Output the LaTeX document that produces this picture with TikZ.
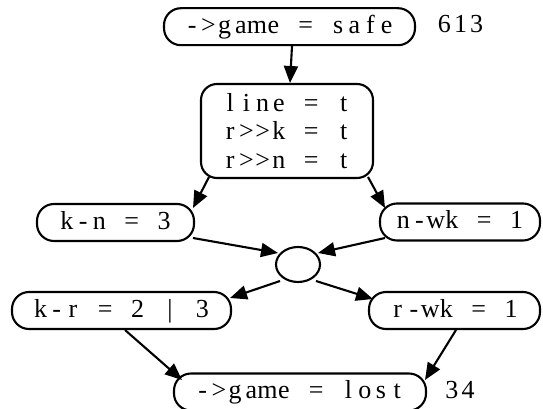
\documentclass[tikz,border=0pt]{standalone}
\usepackage{fontspec}
\setmainfont{Liberation Serif}
\usetikzlibrary{arrows.meta,shapes.geometric}
\newlength\cellw
\setlength\cellw{16.2pt}
\def\mono#1{\monoA#1\relax}
\def\monoA#1{\ifx\relax#1\else\makebox[\cellw][c]{#1}\expandafter\monoA\fi}
\tikzset{
  every node/.style={font=\fontsize{26}{28.5}\selectfont, inner sep=0pt},
  rbox/.style={draw, line width=2.1pt, rounded corners=17pt, minimum height=37pt, text height=17pt, text depth=4pt},
  mbox/.style={draw, line width=2.1pt, rounded corners=16pt, minimum width=172pt, minimum height=94pt, align=center},
  junc/.style={draw, line width=2.1pt, ellipse, minimum width=44pt, minimum height=35pt},
  lbl/.style={text height=17pt, text depth=4pt},
  arr/.style={line width=2.1pt, -{Triangle[length=17pt,width=14pt]}}
}
\begin{document}
\begin{tikzpicture}[x=1pt,y=-1pt]
\useasboundingbox (0,0) rectangle (543,409);
\node[rbox, minimum width=251pt] (safe) at (289.5,26.7) {\mono{->game~=~safe}};
\node[lbl] (n613) at (460.5,26.5) {\mono{613}};
\node[mbox] (mid) at (287,131) {\mono{line~=~t}\\\mono{r>>k~=~t}\\\mono{r>>n~=~t}};
\node[rbox, minimum width=157pt] (kn) at (115.5,222.5) {\mono{k-n~=~3}};
\node[rbox, minimum width=160pt] (nwk) at (460,222) {\mono{n-wk~=~1}};
\node[junc] (j) at (298,264.5) {};
\node[rbox, minimum width=219pt] (kr) at (121.5,310.5) {\mono{k-r~=~2~|~3}};
\node[rbox, minimum width=171pt] (rwk) at (454.5,310.5) {\mono{r-wk~=~1}};
\node[rbox, minimum width=252pt] (lost) at (300,392) {\mono{->game~=~lost}};
\node[lbl] (n34) at (460,392) {\mono{34}};
\draw[arr] ([shift={(2.5,19.3)}]safe.center) -- ([shift={(3,-48)}]mid.center);
\draw[arr] ([shift={(-78,46)}]mid.center) -- ([shift={(77.5,-14.5)}]kn.center);
\draw[arr] ([shift={(81,46)}]mid.center) -- ([shift={(-75,-14)}]nwk.center);
\draw[arr] ([shift={(77.5,15.5)}]kn.center) -- ([shift={(-20,-11.5)}]j.center);
\draw[arr] ([shift={(-75,16)}]nwk.center) -- ([shift={(20,-11.5)}]j.center);
\draw[arr] ([shift={(-18,16.5)}]j.center) -- ([shift={(108.5,-12.5)}]kr.center);
\draw[arr] ([shift={(18,16.5)}]j.center) -- ([shift={(-81.5,-11.5)}]rwk.center);
\draw[arr] ([shift={(3.5,19.5)}]kr.center) -- ([shift={(-118,-12)}]lost.center);
\draw[arr] ([shift={(1.5,19.5)}]rwk.center) -- ([shift={(125,-12)}]lost.center);
\end{tikzpicture}
\end{document}
